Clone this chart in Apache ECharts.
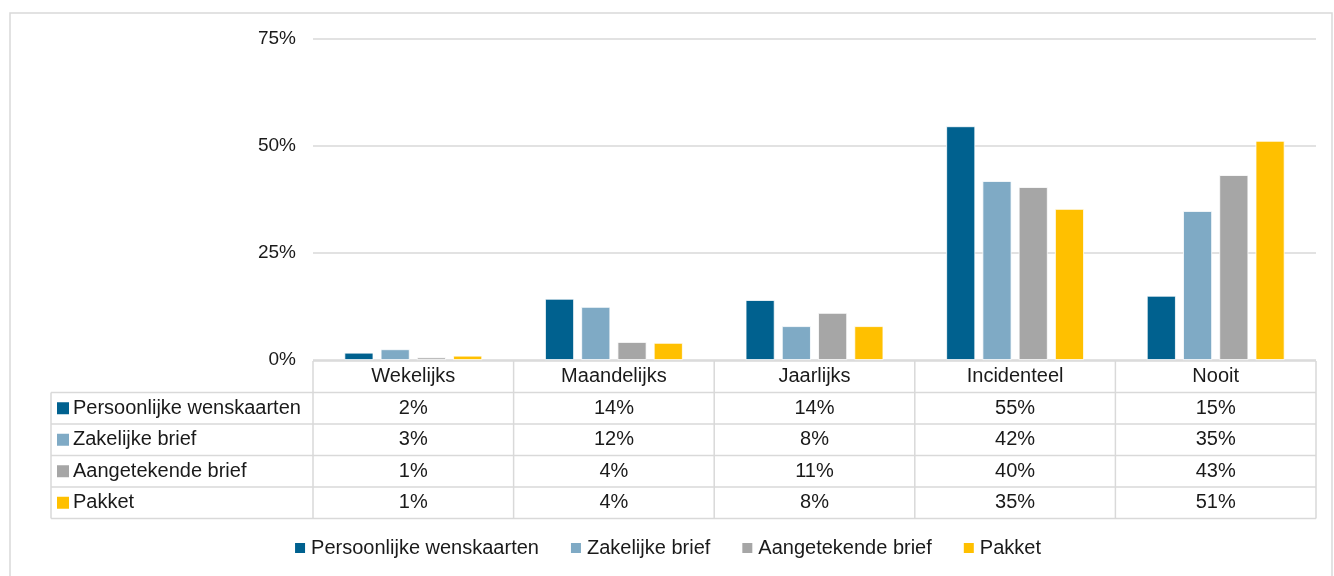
<!DOCTYPE html>
<html>
<head>
<meta charset="utf-8">
<script src="https://cdn.jsdelivr.net/npm/echarts@6/dist/echarts.min.js"></script>
<style>
  html, body { margin: 0; padding: 0; background: #fff; }
  #chart { width: 1334px; height: 576px; }
</style>
</head>
<body>
<div id="chart"></div>
<script>
// categories and values (percent)
var categories = ['Wekelijks', 'Maandelijks', 'Jaarlijks', 'Incidenteel', 'Nooit'];
var seriesNames = ['Persoonlijke wenskaarten', 'Zakelijke brief', 'Aangetekende brief', 'Pakket'];
var wenskaarten = [1.7, 14.3, 14.0, 54.6, 15.0];
var zakelijk = [2.5, 12.4, 7.9, 41.8, 34.8];
var aangetekend = [0.6, 4.2, 11.0, 40.4, 43.2];
var pakket = [1.0, 4.0, 7.9, 35.3, 51.2];
var yTicks = [0, 25, 50, 75];

var colors = ['#00618f', '#7faac5', '#a6a6a6', '#ffc000'];
var allData = [wenskaarten, zakelijk, aangetekend, pakket];
var FONT = 'Liberation Sans';
var textColor = '#1a1a1a';

var myChart = echarts.init(document.getElementById('chart'));

var gridLeft = 313, gridRight = 1316, gridTop = 39, gridBottom = 360;

var option = {
  animation: false,
  textStyle: { fontFamily: FONT },
  grid: {
    left: gridLeft,
    right: 1334 - gridRight,
    top: gridTop,
    bottom: 576 - gridBottom
  },
  legend: {
    data: seriesNames,
    bottom: 13,
    left: 'center',
    icon: 'rect',
    itemWidth: 12,
    itemHeight: 12,
    itemGap: 30,
    textStyle: { fontFamily: FONT, fontSize: 20, color: textColor }
  },
  xAxis: {
    type: 'category',
    data: categories,
    axisLine: { show: false },
    axisTick: { show: false },
    axisLabel: { show: false }
  },
  yAxis: {
    type: 'value',
    min: yTicks[0],
    max: yTicks[yTicks.length - 1],
    interval: 25,
    axisLine: { show: false },
    axisTick: { show: false },
    axisLabel: {
      formatter: '{value}%',
      margin: 17,
      fontFamily: FONT,
      fontSize: 19,
      color: textColor
    },
    splitLine: { lineStyle: { color: '#d9d9d9', width: 1.5 } }
  },
  series: seriesNames.map(function (name, i) {
    return {
      name: name,
      type: 'bar',
      data: allData[i],
      barWidth: 29,
      barGap: '25%',
      itemStyle: { color: colors[i], borderColor: '#fff', borderWidth: 0.8 }
    };
  })
};

myChart.setOption(option);

// data table below the plot, columns aligned with the category bands
var graphics = [];
var lineStyle = { stroke: '#d9d9d9', lineWidth: 1.5 };
var headTop = 361, rowH = 31.5, tableLeft = 51;
var nRows = seriesNames.length;
var tableBottom = headTop + rowH * (nRows + 1);
var colW = (gridRight - gridLeft) / categories.length;
var cellFont = '20px "' + FONT + '"';

// outer chart border
graphics.push({ type: 'rect', shape: { x: 10, y: 13, width: 1322, height: 570 },
  style: { fill: null, stroke: '#d9d9d9', lineWidth: 1.5 }, silent: true });

// horizontal lines
graphics.push({ type: 'line', shape: { x1: gridLeft, y1: headTop, x2: gridRight, y2: headTop }, style: lineStyle });
for (var r = 1; r <= nRows + 1; r++) {
  var y = headTop + rowH * r;
  graphics.push({ type: 'line', shape: { x1: tableLeft, y1: y, x2: gridRight, y2: y }, style: lineStyle });
}
// vertical lines
graphics.push({ type: 'line', shape: { x1: tableLeft, y1: headTop + rowH, x2: tableLeft, y2: tableBottom }, style: lineStyle });
for (var c = 0; c <= categories.length; c++) {
  var x = gridLeft + colW * c;
  graphics.push({ type: 'line', shape: { x1: x, y1: headTop, x2: x, y2: tableBottom }, style: lineStyle });
}
// header labels
categories.forEach(function (cat, c) {
  var cx = myChart.convertToPixel({ xAxisIndex: 0 }, cat);
  graphics.push({ type: 'text', x: cx, y: headTop + rowH / 2,
    style: { text: cat, fill: textColor, font: cellFont, align: 'center', verticalAlign: 'middle' } });
});
// row labels with keys and values
seriesNames.forEach(function (name, r) {
  var cy = headTop + rowH * (r + 1.5);
  graphics.push({ type: 'rect', shape: { x: 57, y: cy - 6, width: 12, height: 12 }, style: { fill: colors[r] } });
  graphics.push({ type: 'text', x: 73, y: cy,
    style: { text: name, fill: textColor, font: cellFont, align: 'left', verticalAlign: 'middle' } });
  allData[r].forEach(function (v, c) {
    var cx = myChart.convertToPixel({ xAxisIndex: 0 }, categories[c]);
    graphics.push({ type: 'text', x: cx, y: cy,
      style: { text: Math.round(v) + '%', fill: textColor, font: cellFont, align: 'center', verticalAlign: 'middle' } });
  });
});

myChart.setOption({ graphic: graphics });
</script>
</body>
</html>
